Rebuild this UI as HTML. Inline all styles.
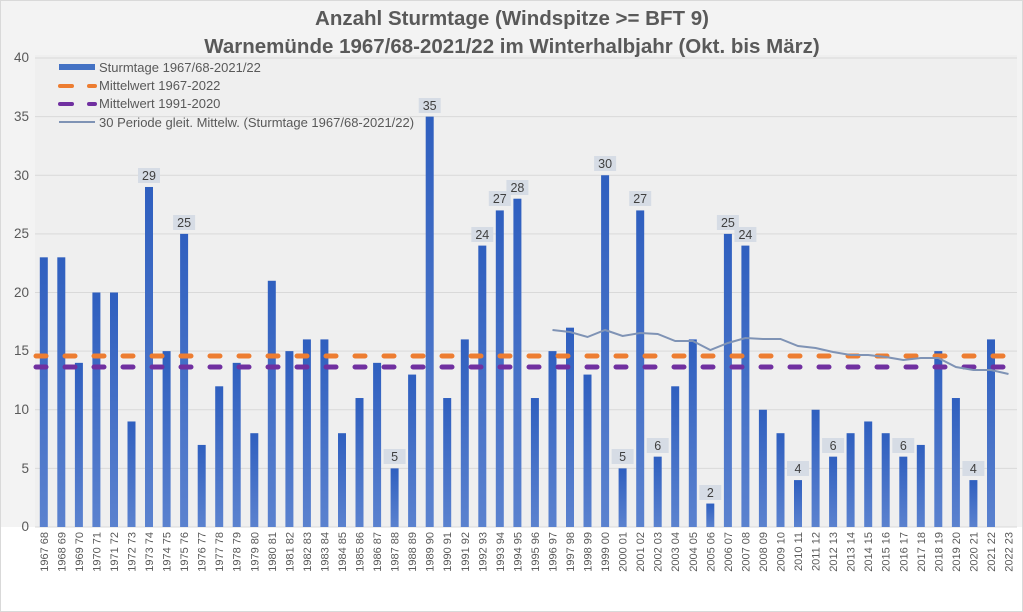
<!DOCTYPE html>
<html><head><meta charset="utf-8"><style>
html,body{margin:0;padding:0;background:#fff}
svg{display:block;font-family:"Liberation Sans",Arial,sans-serif}
</style></head><body>
<svg width="1023" height="612" viewBox="0 0 1023 612" xmlns="http://www.w3.org/2000/svg">
<defs>
<linearGradient id="bg" x1="0" y1="1" x2="0" y2="0"><stop offset="0" stop-color="#2f5fbf"/><stop offset="1" stop-color="#5b82cf"/></linearGradient>
</defs>
<rect x="0" y="0" width="1023" height="612" fill="#ffffff"/>
<rect x="0" y="0" width="1023" height="527" fill="#f3f3f3"/>
<rect x="35" y="55" width="982" height="472" fill="#efefef"/>
<g stroke="#d9d9d9" stroke-width="1">
<line x1="35" x2="1017" y1="58" y2="58"/><line x1="35" x2="1017" y1="116.6" y2="116.6"/><line x1="35" x2="1017" y1="175.3" y2="175.3"/><line x1="35" x2="1017" y1="233.9" y2="233.9"/><line x1="35" x2="1017" y1="292.5" y2="292.5"/><line x1="35" x2="1017" y1="351.1" y2="351.1"/><line x1="35" x2="1017" y1="409.8" y2="409.8"/><line x1="35" x2="1017" y1="468.4" y2="468.4"/><line x1="35" x2="1017" y1="527" y2="527"/>
</g>
<g font-size="13.5" fill="#595959" text-anchor="end">
<text x="29" y="62">40</text><text x="29" y="121">35</text><text x="29" y="180">30</text><text x="29" y="238">25</text><text x="29" y="297">20</text><text x="29" y="355">15</text><text x="29" y="414">10</text><text x="29" y="473">5</text><text x="29" y="531">0</text>
</g>
<text x="512" y="25" font-size="20.5" font-weight="bold" fill="#595959" text-anchor="middle">Anzahl Sturmtage (Windspitze &gt;= BFT 9)</text>
<text x="512" y="53" font-size="20.5" font-weight="bold" fill="#595959" text-anchor="middle">Warnemünde 1967/68-2021/22 im Winterhalbjahr (Okt. bis März)</text>
<g transform="translate(0,527) scale(1,-11.725)" fill="url(#bg)">
<rect x="39.8" y="0" width="8" height="23"/><rect x="57.3" y="0" width="8" height="23"/><rect x="74.9" y="0" width="8" height="14"/><rect x="92.4" y="0" width="8" height="20"/><rect x="110" y="0" width="8" height="20"/><rect x="127.5" y="0" width="8" height="9"/><rect x="145" y="0" width="8" height="29"/><rect x="162.6" y="0" width="8" height="15"/><rect x="180.1" y="0" width="8" height="25"/><rect x="197.7" y="0" width="8" height="7"/><rect x="215.2" y="0" width="8" height="12"/><rect x="232.7" y="0" width="8" height="14"/><rect x="250.3" y="0" width="8" height="8"/><rect x="267.8" y="0" width="8" height="21"/><rect x="285.4" y="0" width="8" height="15"/><rect x="302.9" y="0" width="8" height="16"/><rect x="320.4" y="0" width="8" height="16"/><rect x="338" y="0" width="8" height="8"/><rect x="355.5" y="0" width="8" height="11"/><rect x="373.1" y="0" width="8" height="14"/><rect x="390.6" y="0" width="8" height="5"/><rect x="408.1" y="0" width="8" height="13"/><rect x="425.7" y="0" width="8" height="35"/><rect x="443.2" y="0" width="8" height="11"/><rect x="460.8" y="0" width="8" height="16"/><rect x="478.3" y="0" width="8" height="24"/><rect x="495.8" y="0" width="8" height="27"/><rect x="513.4" y="0" width="8" height="28"/><rect x="530.9" y="0" width="8" height="11"/><rect x="548.5" y="0" width="8" height="15"/><rect x="566" y="0" width="8" height="17"/><rect x="583.5" y="0" width="8" height="13"/><rect x="601.1" y="0" width="8" height="30"/><rect x="618.6" y="0" width="8" height="5"/><rect x="636.2" y="0" width="8" height="27"/><rect x="653.7" y="0" width="8" height="6"/><rect x="671.2" y="0" width="8" height="12"/><rect x="688.8" y="0" width="8" height="16"/><rect x="706.3" y="0" width="8" height="2"/><rect x="723.9" y="0" width="8" height="25"/><rect x="741.4" y="0" width="8" height="24"/><rect x="758.9" y="0" width="8" height="10"/><rect x="776.5" y="0" width="8" height="8"/><rect x="794" y="0" width="8" height="4"/><rect x="811.6" y="0" width="8" height="10"/><rect x="829.1" y="0" width="8" height="6"/><rect x="846.6" y="0" width="8" height="8"/><rect x="864.2" y="0" width="8" height="9"/><rect x="881.7" y="0" width="8" height="8"/><rect x="899.3" y="0" width="8" height="6"/><rect x="916.8" y="0" width="8" height="7"/><rect x="934.3" y="0" width="8" height="15"/><rect x="951.9" y="0" width="8" height="11"/><rect x="969.4" y="0" width="8" height="4"/><rect x="987" y="0" width="8" height="16"/>
</g>
<line x1="36" x2="1017" y1="356" y2="356" stroke="#ed7d31" stroke-width="5" stroke-linecap="round" stroke-dasharray="10 19"/>
<line x1="36" x2="1017" y1="367" y2="367" stroke="#7030a0" stroke-width="5" stroke-linecap="round" stroke-dasharray="10 19"/>
<polyline fill="none" stroke="#7f93b5" stroke-width="2" points="552.5,330 570,332 587.5,337 605.1,330 622.6,336 640.2,333 657.7,334 675.2,341 692.8,341 710.3,350 727.9,343 745.4,338 762.9,339 780.5,339 798,346 815.6,348 833.1,352 850.6,355 868.2,355 885.7,357 903.3,360 920.8,358 938.3,358 955.9,367 973.4,370 991,370 1008.5,374"/>
<g fill="#d6dce5">
<rect x="138" y="168" width="22" height="15"/><rect x="173.1" y="215" width="22" height="15"/><rect x="383.6" y="449" width="22" height="15"/><rect x="418.7" y="98" width="22" height="15"/><rect x="471.3" y="227" width="22" height="15"/><rect x="488.8" y="191" width="22" height="15"/><rect x="506.4" y="180" width="22" height="15"/><rect x="594.1" y="156" width="22" height="15"/><rect x="611.6" y="449" width="22" height="15"/><rect x="629.2" y="191" width="22" height="15"/><rect x="646.7" y="438" width="22" height="15"/><rect x="699.3" y="485" width="22" height="15"/><rect x="716.9" y="215" width="22" height="15"/><rect x="734.4" y="227" width="22" height="15"/><rect x="787" y="461" width="22" height="15"/><rect x="822.1" y="438" width="22" height="15"/><rect x="892.3" y="438" width="22" height="15"/><rect x="962.4" y="461" width="22" height="15"/>
</g>
<g font-size="12.5" fill="#404040" text-anchor="middle">
<text x="149" y="180">29</text><text x="184.1" y="227">25</text><text x="394.6" y="461">5</text><text x="429.7" y="110">35</text><text x="482.3" y="239">24</text><text x="499.8" y="203">27</text><text x="517.4" y="192">28</text><text x="605.1" y="168">30</text><text x="622.6" y="461">5</text><text x="640.2" y="203">27</text><text x="657.7" y="450">6</text><text x="710.3" y="497">2</text><text x="727.9" y="227">25</text><text x="745.4" y="239">24</text><text x="798" y="473">4</text><text x="833.1" y="450">6</text><text x="903.3" y="450">6</text><text x="973.4" y="473">4</text>
</g>
<g font-size="11" fill="#595959" text-anchor="end">
<text transform="translate(47.8,532) rotate(-90)">1967 68</text><text transform="translate(65.3,532) rotate(-90)">1968 69</text><text transform="translate(82.9,532) rotate(-90)">1969 70</text><text transform="translate(100.4,532) rotate(-90)">1970 71</text><text transform="translate(118,532) rotate(-90)">1971 72</text><text transform="translate(135.5,532) rotate(-90)">1972 73</text><text transform="translate(153,532) rotate(-90)">1973 74</text><text transform="translate(170.6,532) rotate(-90)">1974 75</text><text transform="translate(188.1,532) rotate(-90)">1975 76</text><text transform="translate(205.7,532) rotate(-90)">1976 77</text><text transform="translate(223.2,532) rotate(-90)">1977 78</text><text transform="translate(240.7,532) rotate(-90)">1978 79</text><text transform="translate(258.3,532) rotate(-90)">1979 80</text><text transform="translate(275.8,532) rotate(-90)">1980 81</text><text transform="translate(293.4,532) rotate(-90)">1981 82</text><text transform="translate(310.9,532) rotate(-90)">1982 83</text><text transform="translate(328.4,532) rotate(-90)">1983 84</text><text transform="translate(346,532) rotate(-90)">1984 85</text><text transform="translate(363.5,532) rotate(-90)">1985 86</text><text transform="translate(381.1,532) rotate(-90)">1986 87</text><text transform="translate(398.6,532) rotate(-90)">1987 88</text><text transform="translate(416.1,532) rotate(-90)">1988 89</text><text transform="translate(433.7,532) rotate(-90)">1989 90</text><text transform="translate(451.2,532) rotate(-90)">1990 91</text><text transform="translate(468.8,532) rotate(-90)">1991 92</text><text transform="translate(486.3,532) rotate(-90)">1992 93</text><text transform="translate(503.8,532) rotate(-90)">1993 94</text><text transform="translate(521.4,532) rotate(-90)">1994 95</text><text transform="translate(538.9,532) rotate(-90)">1995 96</text><text transform="translate(556.5,532) rotate(-90)">1996 97</text><text transform="translate(574,532) rotate(-90)">1997 98</text><text transform="translate(591.5,532) rotate(-90)">1998 99</text><text transform="translate(609.1,532) rotate(-90)">1999 00</text><text transform="translate(626.6,532) rotate(-90)">2000 01</text><text transform="translate(644.2,532) rotate(-90)">2001 02</text><text transform="translate(661.7,532) rotate(-90)">2002 03</text><text transform="translate(679.2,532) rotate(-90)">2003 04</text><text transform="translate(696.8,532) rotate(-90)">2004 05</text><text transform="translate(714.3,532) rotate(-90)">2005 06</text><text transform="translate(731.9,532) rotate(-90)">2006 07</text><text transform="translate(749.4,532) rotate(-90)">2007 08</text><text transform="translate(766.9,532) rotate(-90)">2008 09</text><text transform="translate(784.5,532) rotate(-90)">2009 10</text><text transform="translate(802,532) rotate(-90)">2010 11</text><text transform="translate(819.6,532) rotate(-90)">2011 12</text><text transform="translate(837.1,532) rotate(-90)">2012 13</text><text transform="translate(854.6,532) rotate(-90)">2013 14</text><text transform="translate(872.2,532) rotate(-90)">2014 15</text><text transform="translate(889.7,532) rotate(-90)">2015 16</text><text transform="translate(907.3,532) rotate(-90)">2016 17</text><text transform="translate(924.8,532) rotate(-90)">2017 18</text><text transform="translate(942.3,532) rotate(-90)">2018 19</text><text transform="translate(959.9,532) rotate(-90)">2019 20</text><text transform="translate(977.4,532) rotate(-90)">2020 21</text><text transform="translate(995,532) rotate(-90)">2021 22</text><text transform="translate(1012.5,532) rotate(-90)">2022 23</text>
</g>
<rect x="59" y="64" width="36" height="6" fill="#4472c4"/>
<line x1="60" x2="72" y1="86" y2="86" stroke="#ed7d31" stroke-width="4" stroke-linecap="round"/><line x1="89" x2="95" y1="86" y2="86" stroke="#ed7d31" stroke-width="4" stroke-linecap="round"/>
<line x1="60" x2="72" y1="104" y2="104" stroke="#7030a0" stroke-width="4" stroke-linecap="round"/><line x1="89" x2="95" y1="104" y2="104" stroke="#7030a0" stroke-width="4" stroke-linecap="round"/>
<line x1="59" x2="95" y1="122" y2="122" stroke="#7f93b5" stroke-width="2"/>
<g font-size="13" fill="#595959">
<text x="99" y="72">Sturmtage 1967/68-2021/22</text>
<text x="99" y="90">Mittelwert 1967-2022</text>
<text x="99" y="108">Mittelwert 1991-2020</text>
<text x="99" y="127">30 Periode gleit. Mittelw. (Sturmtage 1967/68-2021/22)</text>
</g>
<rect x="0.5" y="0.5" width="1022" height="611" fill="none" stroke="#d9d9d9"/>
</svg>
</body></html>
